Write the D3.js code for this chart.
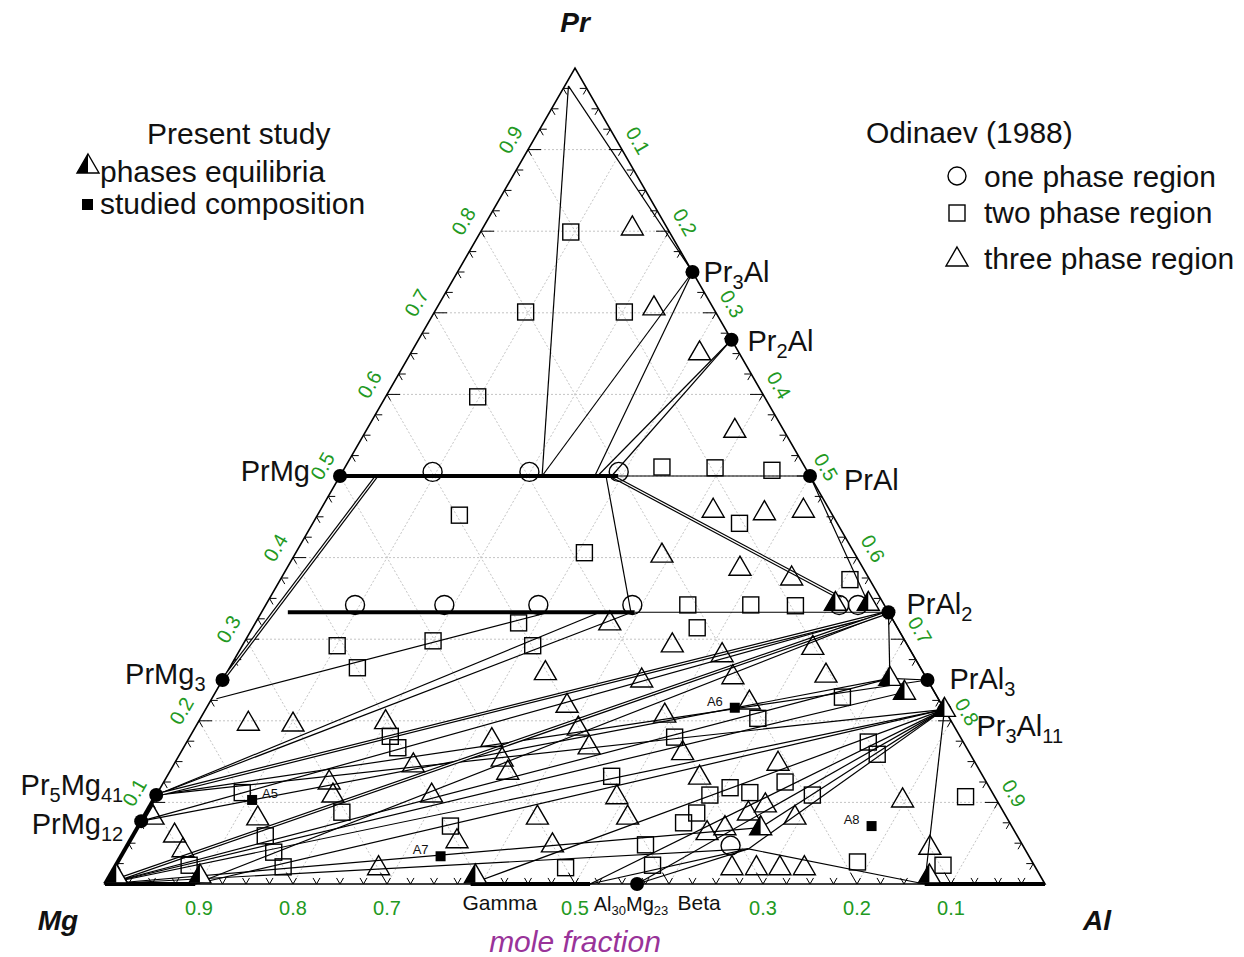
<!DOCTYPE html>
<meta charset="utf-8">
<style>
body { margin: 0; background: #fff; }
svg text { font-family: "Liberation Sans", Arial, sans-serif; fill: #111; }
.grid line { stroke: #c4c4c4; stroke-width: 1; stroke-dasharray: 2,2; }
.frame { fill: none; stroke: #000; stroke-width: 1.6; }
.tick { stroke: #000; stroke-width: 1; }
.tie { stroke: #000; stroke-width: 1.2; fill: none; }
.thick { stroke: #000; stroke-width: 4; stroke-linecap: butt; }
.dbl-out { stroke: #000; stroke-width: 3.6; }
.dbl-in { stroke: #fff; stroke-width: 1.2; }
.open { fill: none; stroke: #000; stroke-width: 1.4; }
.axlab { fill: #229922; font-size: 20px; }
.legend { font-size: 30px; }
.corner { font-size: 28px; font-weight: bold; font-style: italic; }
</style>
<body>
<svg id="chart" width="1244" height="957"></svg>
<script src="https://cdnjs.cloudflare.com/ajax/libs/d3/7.8.5/d3.min.js"></script>
<script>
// ---- data (atomic fractions: [Pr, Al], Mg = 1 - Pr - Al) ----
const gridSteps = [0.1, 0.2, 0.3, 0.4, 0.5, 0.6, 0.7, 0.8, 0.9]
const leftTickLabels = ['0.1', '0.2', '0.3', '0.4', '0.5', '0.6', '0.7', '0.8', '0.9']   // Pr
const rightTickLabels = ['0.1', '0.2', '0.3', '0.4', '0.5', '0.6', '0.7', '0.8', '0.9']  // Al
const bottomTickAl = [0.1, 0.2, 0.3, 0.5, 0.7, 0.8, 0.9]
const bottomTickLabels = ['0.9', '0.8', '0.7', '0.5', '0.3', '0.2', '0.1']                // Mg

const compoundNames = ['Pr3Al', 'Pr2Al', 'PrAl', 'PrAl2', 'PrAl3', 'Pr3Al11', 'PrMg', 'PrMg3', 'Pr5Mg41', 'PrMg12', 'Al30Mg23']
const compoundPr = [0.75, 0.667, 0.5, 0.333, 0.25, 0.214, 0.5, 0.25, 0.109, 0.077, 0]
const compoundAl = [0.25, 0.333, 0.5, 0.667, 0.75, 0.786, 0, 0, 0, 0, 0.566]

// Odinaev (1988)
const onePhase = [[0.505, 0.096], [0.505, 0.199], [0.505, 0.294], [0.342, 0.095], [0.342, 0.19],
  [0.342, 0.29], [0.342, 0.39], [0.342, 0.63], [0.342, 0.61], [0.047, 0.642]]
const twoPhase = [[0.799, 0.096], [0.701, 0.097], [0.701, 0.202], [0.597, 0.098], [0.511, 0.337],
  [0.510, 0.394], [0.507, 0.456], [0.452, 0.151], [0.442, 0.454], [0.406, 0.307], [0.373, 0.606],
  [0.342, 0.449], [0.342, 0.516], [0.341, 0.564], [0.292, 0.101], [0.298, 0.200], [0.320, 0.280],
  [0.292, 0.309], [0.265, 0.136], [0.314, 0.473], [0.229, 0.670], [0.203, 0.593], [0.180, 0.516],
  [0.181, 0.213], [0.167, 0.228], [0.174, 0.725], [0.159, 0.742], [0.132, 0.473], [0.125, 0.661],
  [0.112, 0.630], [0.118, 0.606], [0.109, 0.589], [0.109, 0.698], [0.087, 0.586], [0.075, 0.578],
  [0.048, 0.551], [0.023, 0.571], [0.020, 0.480], [0.027, 0.787], [0.023, 0.880], [0.088, 0.208],
  [0.071, 0.332], [0.112, 0.090], [0.059, 0.141], [0.039, 0.160], [0.021, 0.179], [0.023, 0.078],
  [0.107, 0.862]]
const threePhase = [[0.804, 0.159], [0.706, 0.231], [0.651, 0.307], [0.556, 0.392], [0.458, 0.418],
  [0.455, 0.474], [0.458, 0.514], [0.403, 0.391], [0.387, 0.482], [0.375, 0.543], [0.320, 0.377],
  [0.259, 0.339], [0.281, 0.516], [0.250, 0.446], [0.254, 0.541], [0.290, 0.608], [0.256, 0.639],
  [0.293, 0.457], [0.207, 0.492], [0.219, 0.382], [0.191, 0.408], [0.168, 0.431], [0.223, 0.574],
  [0.161, 0.534], [0.131, 0.567], [0.148, 0.642], [0.107, 0.491], [0.082, 0.515], [0.082, 0.419],
  [0.048, 0.452], [0.087, 0.641], [0.097, 0.654], [0.069, 0.625], [0.063, 0.609], [0.082, 0.693],
  [0.103, 0.797], [0.045, 0.855], [0.020, 0.657], [0.020, 0.683], [0.020, 0.708], [0.020, 0.734],
  [0.197, 0.054], [0.196, 0.102], [0.199, 0.199], [0.177, 0.323], [0.153, 0.346], [0.137, 0.360],
  [0.146, 0.255], [0.125, 0.176], [0.109, 0.188], [0.109, 0.293], [0.081, 0.122], [0.053, 0.348],
  [0.060, 0.044], [0.042, 0.062], [0.082, 0.010], [0.020, 0.281]]

// Present study
const equilibria = [[0.344, 0.605], [0.344, 0.640], [0.252, 0.709], [0.235, 0.733], [0.069, 0.663],
  [0.01, 0.389], [0.01, 0.096], [0.01, 0.007], [0.01, 0.872], [0.214, 0.786]]
const studiedNames = ['A5', 'A6', 'A7', 'A8']
const studied = [[0.103, 0.105], [0.216, 0.562], [0.034, 0.340], [0.071, 0.780]]

// tie lines [Pr1, Al1, Pr2, Al2]
const tieLines = [
  [0.978, 0.004, 0.75, 0.25], [0.978, 0.004, 0.5, 0.215], [0.75, 0.25, 0.5, 0.215],
  [0.75, 0.25, 0.5, 0.271], [0.667, 0.333, 0.5, 0.274], [0.667, 0.333, 0.5, 0.289],
  [0.5, 0.283, 0.333, 0.393], [0.5, 0.5, 0.344, 0.64], [0.5, 0.296, 0.5, 0.5], [0.333, 0.397, 0.333, 0.667],
  [0.227, 0.005, 0.333, 0.306], [0.109, 0, 0.333, 0.36], [0.109, 0, 0.333, 0.394],
  [0.077, 0, 0.333, 0.667], [0, 0.096, 0.333, 0.667], [0.109, 0, 0.214, 0.786], [0.109, 0, 0.25, 0.75],
  [0.077, 0, 0.252, 0.709], [0, 0, 0.214, 0.786], [0, 0, 0.235, 0.733], [0, 0, 0.252, 0.709],
  [0, 0.096, 0.214, 0.786], [0, 0, 0.043, 0.663], [0, 0, 0.069, 0.663], [0, 0.389, 0.214, 0.786],
  [0, 0.516, 0.214, 0.786], [0, 0.566, 0.214, 0.786], [0.043, 0.663, 0.214, 0.786],
  [0.069, 0.663, 0.214, 0.786], [0.043, 0.663, 0, 0.516], [0.043, 0.663, 0, 0.566],
  [0.043, 0.663, 0, 0.872], [0.333, 0.667, 0.252, 0.709], [0.252, 0.709, 0.25, 0.75],
  [0.333, 0.667, 0.214, 0.786], [0.214, 0.786, 0, 0.872]]
const doubleTieLines = [[0.5, 0.039, 0.25, 0], [0.5, 0.289, 0.35, 0.608],
  [0.109, 0, 0.333, 0.667], [0, 0, 0.333, 0.667]]
const phaseBoundaries = [[0.5, 0, 0.5, 0.296], [0.333, 0.028, 0.333, 0.397], [0, 0, 0, 0.096],
  [0, 0.389, 0, 0.516], [0, 0.872, 0, 1], [0, 0, 0.109, 0]]

// ---- drawing ----
const svg = d3.select('#chart')
const xs = d3.scaleLinear().domain([0, 1]).range([105, 1045])
const ys = d3.scaleLinear().domain([0, 1]).range([884, 68])
const px = (pr, al) => xs(al + pr / 2)
const py = pr => ys(pr)

// grid
const grid = svg.append('g').attr('class', 'grid')
gridSteps.forEach(v => {
  [[v, 0, v, 1 - v], [0, v, 1 - v, v], [0, 1 - v, 1 - v, 0]].forEach(s => {
    grid.append('line').attr('x1', px(s[0], s[1])).attr('y1', py(s[0]))
      .attr('x2', px(s[2], s[3])).attr('y2', py(s[2]))
  })
})

// frame
svg.append('path').attr('class', 'frame')
  .attr('d', `M${px(0, 0)},${py(0)}L${px(1, 0)},${py(1)}L${px(0, 1)},${py(0)}Z`)

// ticks
const tg = svg.append('g')
const edges = [
  { at: t => [t, 0], dirs: [[1, 0], [0.5, 0.866]] },
  { at: t => [1 - t, t], dirs: [[-1, 0], [-0.5, 0.866]] },
  { at: t => [0, t], dirs: [[-0.5, -0.866], [0.5, -0.866]] }
]
d3.range(1, 40).forEach(i => {
  const t = i * 0.025
  const major = i % 4 === 0
  edges.forEach(e => {
    const [pr, al] = e.at(t)
    const x0 = px(pr, al), y0 = py(pr)
    e.dirs.forEach((d, k) => {
      const len = major && k === 0 ? 13 : 7
      tg.append('line').attr('class', 'tick')
        .attr('x1', x0).attr('y1', y0).attr('x2', x0 + d[0] * len).attr('y2', y0 + d[1] * len)
    })
  })
})

// tick labels
gridSteps.forEach((v, i) => {
  svg.append('text').attr('class', 'axlab')
    .attr('transform', `translate(${px(v, 0) - 17.5},${py(v) - 10}) rotate(-60)`)
    .attr('text-anchor', 'middle').attr('dy', '.35em').text(leftTickLabels[i])
  svg.append('text').attr('class', 'axlab')
    .attr('transform', `translate(${px(1 - v, v) + 16},${py(1 - v) - 9}) rotate(60)`)
    .attr('text-anchor', 'middle').attr('dy', '.35em').text(rightTickLabels[i])
})
bottomTickAl.forEach((v, i) => {
  svg.append('text').attr('class', 'axlab').attr('x', xs(v)).attr('y', py(0) + 31)
    .attr('text-anchor', 'middle').text(bottomTickLabels[i])
})

// tie lines
const seg = (g, d, cls) => g.append('line').attr('class', cls)
  .attr('x1', px(d[0], d[1])).attr('y1', py(d[0])).attr('x2', px(d[2], d[3])).attr('y2', py(d[2]))
const lines = svg.append('g')
tieLines.forEach(d => seg(lines, d, 'tie'))
doubleTieLines.forEach(d => { seg(lines, d, 'dbl-out'); seg(lines, d, 'dbl-in') })
phaseBoundaries.forEach(d => seg(lines, d, 'thick'))

// Odinaev markers
const mk = svg.append('g')
onePhase.forEach(d => mk.append('circle').attr('class', 'open')
  .attr('cx', px(d[0], d[1])).attr('cy', py(d[0])).attr('r', 9.5))
twoPhase.forEach(d => mk.append('rect').attr('class', 'open')
  .attr('x', px(d[0], d[1]) - 8).attr('y', py(d[0]) - 8).attr('width', 16).attr('height', 16))
const triPath = 'M0,-12L11,7L-11,7Z'
threePhase.forEach(d => mk.append('path').attr('class', 'open').attr('d', triPath)
  .attr('transform', `translate(${px(d[0], d[1])},${py(d[0])})`))

// compound dots + labels
const labelPlace = {
  Pr3Al: [11, 10, 'start'], Pr2Al: [16, 11, 'start'], PrAl: [34, 14, 'start'],
  PrAl2: [18, 2, 'start'], PrAl3: [22, 9, 'start'], Pr3Al11: [32, 27, 'start'],
  PrMg: [-30, 5, 'end'], PrMg3: [-17, 4, 'end'], Pr5Mg41: [-33, 0, 'end'],
  PrMg12: [-18, 13, 'end'], Al30Mg23: [-6, 27, 'middle']
}
function formula(x, y, name, anchor, size, sub, shift) {
  const t = svg.append('text').attr('x', x).attr('y', y).attr('text-anchor', anchor)
    .style('font-size', size + 'px')
  let down = false
  name.split(/(\d+)/).filter(s => s).forEach(s => {
    const ts = t.append('tspan').text(s)
    if (/^\d+$/.test(s)) { ts.style('font-size', sub + 'px').attr('dy', down ? 0 : shift); down = true }
    else { ts.attr('dy', down ? -shift : 0); down = false }
  })
}
compoundNames.forEach((n, i) => {
  const x = px(compoundPr[i], compoundAl[i]), y = py(compoundPr[i])
  svg.append('circle').attr('cx', x).attr('cy', y).attr('r', 7).attr('fill', '#000')
  const p = labelPlace[n]
  if (n === 'Al30Mg23') formula(x + p[0], y + p[1], n, p[2], 20, 13, 4)
  else formula(x + p[0], y + p[1], n, p[2], 29, 20, 7)
})

// Present study markers
function halfTri(g, x, y) {
  g.append('path').attr('d', triPath).attr('fill', '#fff').attr('stroke', '#000').attr('stroke-width', 1.4)
    .attr('transform', `translate(${x},${y})`)
  g.append('path').attr('d', 'M0,-12L0,7L-11,7Z').attr('fill', '#000')
    .attr('transform', `translate(${x},${y})`)
}
equilibria.forEach(d => halfTri(svg, px(d[0], d[1]), py(d[0])))
studied.forEach((d, i) => {
  const x = px(d[0], d[1]), y = py(d[0])
  svg.append('rect').attr('x', x - 5).attr('y', y - 5).attr('width', 10).attr('height', 10).attr('fill', '#000')
  const right = studiedNames[i] === 'A5'
  svg.append('text').attr('x', right ? x + 10 : x - 12).attr('y', y - 2)
    .attr('text-anchor', right ? 'start' : 'end').style('font-size', '13px').text(studiedNames[i])
})

// phase names on Mg-Al side
svg.append('text').attr('x', xs(0.42)).attr('y', 910).attr('text-anchor', 'middle')
  .style('font-size', '21px').text('Gamma')
svg.append('text').attr('x', xs(0.609)).attr('y', 910).attr('text-anchor', 'start')
  .style('font-size', '21px').text('Beta')

// corners & title
svg.append('text').attr('class', 'corner').attr('x', 575).attr('y', 32).attr('text-anchor', 'middle').text('Pr')
svg.append('text').attr('class', 'corner').attr('x', 58).attr('y', 930).attr('text-anchor', 'middle').text('Mg')
svg.append('text').attr('class', 'corner').attr('x', 1097).attr('y', 930).attr('text-anchor', 'middle').text('Al')
svg.append('text').attr('x', 575).attr('y', 952).attr('text-anchor', 'middle')
  .style('font-size', '30px').style('font-style', 'italic').style('fill', '#993399').text('mole fraction')

// legends
const lg = svg.append('g')
lg.append('text').attr('class', 'legend').attr('x', 147).attr('y', 144).text('Present study')
halfTri(lg, 88, 166)
lg.append('text').attr('class', 'legend').attr('x', 100).attr('y', 182).text('phases equilibria')
lg.append('rect').attr('x', 82).attr('y', 199).attr('width', 11).attr('height', 11).attr('fill', '#000')
lg.append('text').attr('class', 'legend').attr('x', 100).attr('y', 214).text('studied composition')

lg.append('text').attr('class', 'legend').attr('x', 866).attr('y', 143).text('Odinaev (1988)')
lg.append('circle').attr('class', 'open').attr('cx', 957).attr('cy', 176).attr('r', 9)
lg.append('text').attr('class', 'legend').attr('x', 984).attr('y', 187).text('one phase region')
lg.append('rect').attr('class', 'open').attr('x', 949).attr('y', 205).attr('width', 16).attr('height', 16)
lg.append('text').attr('class', 'legend').attr('x', 984).attr('y', 223).text('two phase region')
lg.append('path').attr('class', 'open').attr('d', triPath).attr('transform', 'translate(957,259)')
lg.append('text').attr('class', 'legend').attr('x', 984).attr('y', 269).text('three phase region')
</script>
</body>
